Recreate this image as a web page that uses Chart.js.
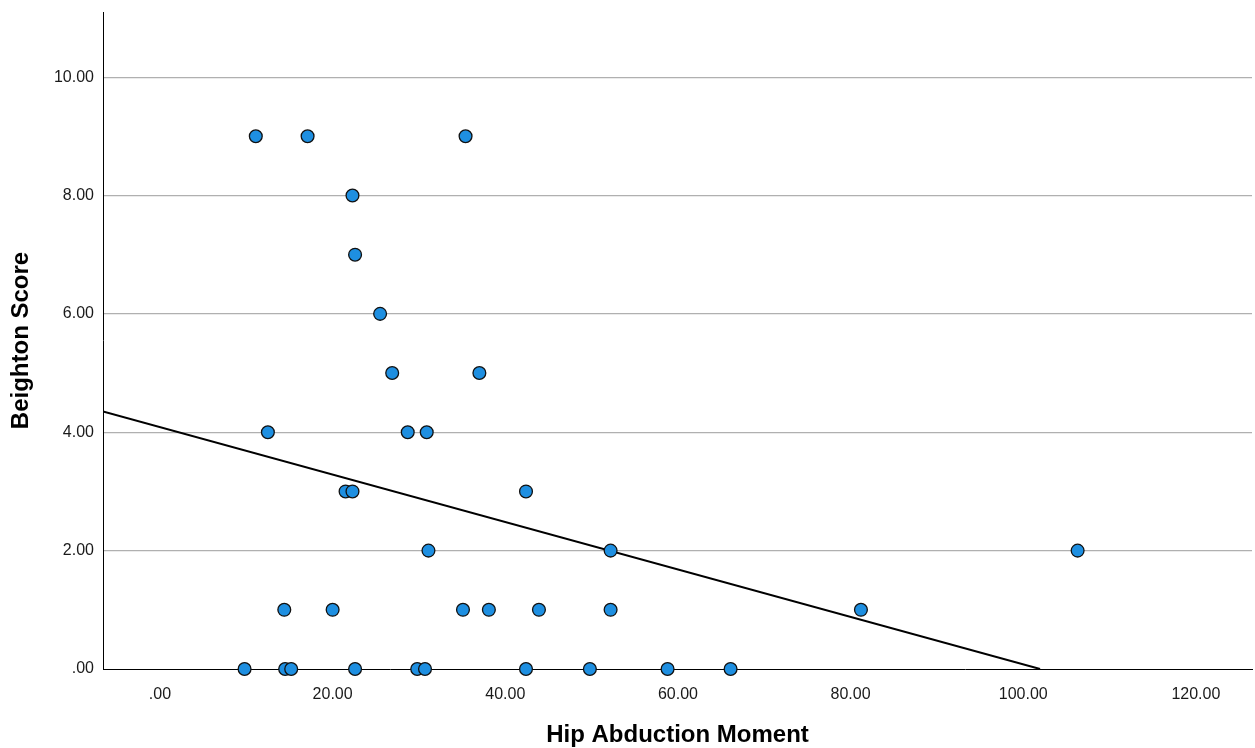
<!DOCTYPE html>
<html>
<head>
<meta charset="utf-8">
<title>Hip Abduction Moment vs Beighton Score</title>
<script src="https://cdn.jsdelivr.net/npm/chart.js@4.4.1/dist/chart.umd.min.js"></script>
<style>
    html, body { margin: 0; padding: 0; background: #ffffff; }
    #wrap { width: 1255px; height: 748px; position: relative; }
</style>
</head>
<body>
<div id="wrap"><canvas id="scatterChart"></canvas></div>
<script>
// hip abduction moment (x) and Beighton score (y)
const hipMoment = [
    11.1, 17.1, 35.4,
    22.3,
    22.6,
    25.5,
    26.9, 37.0,
    12.5, 28.7, 30.9,
    21.5, 22.3, 42.4,
    31.1, 52.2, 106.3,
    14.4, 20.0, 35.1, 38.1, 43.9, 52.2, 81.2,
    9.8, 14.5, 15.2, 22.6, 29.8, 30.7, 42.4, 49.8, 58.8, 66.1
];
const beightonScore = [
    9, 9, 9,
    8,
    7,
    6,
    5, 5,
    4, 4, 4,
    3, 3, 3,
    2, 2, 2,
    1, 1, 1, 1, 1, 1, 1,
    0, 0, 0, 0, 0, 0, 0, 0, 0, 0
];

const xTicks = [0, 20, 40, 60, 80, 100, 120];
const yTicks = [0, 2, 4, 6, 8, 10];
const xRange = [-6.6, 126.5];
const yRange = [0, 11.1];

const fontFamily = "'Liberation Sans', Arial, sans-serif";
const textColor = "#1a1a1a";

// least squares fit line, as the original draws it
function fitLine(xs, ys) {
    const n = xs.length;
    const mx = xs.reduce((a, b) => a + b, 0) / n;
    const my = ys.reduce((a, b) => a + b, 0) / n;
    let sxy = 0, sxx = 0;
    for (let i = 0; i < n; i++) {
        sxy += (xs[i] - mx) * (ys[i] - my);
        sxx += (xs[i] - mx) * (xs[i] - mx);
    }
    const slope = sxy / sxx;
    return { slope, intercept: my - slope * mx };
}

const fit = fitLine(hipMoment, beightonScore);
const xStart = xRange[0];
const xEnd = Math.min(xRange[1], -fit.intercept / fit.slope);
const fitPoints = [
    { x: xStart, y: fit.intercept + fit.slope * xStart },
    { x: xEnd, y: fit.intercept + fit.slope * xEnd }
];

const fmt = v => v === 0 ? ".00" : v.toFixed(2);

const tickFont = { family: fontFamily, size: 16 };
const titleFont = { family: fontFamily, size: 24, weight: "bold", lineHeight: 1.1 };

new Chart(document.getElementById("scatterChart"), {
    type: "scatter",
    data: {
        datasets: [{
            data: hipMoment.map((x, i) => ({ x, y: beightonScore[i] })),
            backgroundColor: "#1e8fe1",
            borderColor: "#111111",
            borderWidth: 1.3,
            pointRadius: 6.4,
            pointHoverRadius: 6.4,
            clip: false
        }, {
            type: "line",
            data: fitPoints,
            borderColor: "#000000",
            borderWidth: 2,
            pointRadius: 0,
            fill: false
        }]
    },
    options: {
        responsive: true,
        maintainAspectRatio: false,
        animation: false,
        layout: {
            autoPadding: false,
            padding: { top: 12, right: 3, left: 0, bottom: 0 }
        },
        plugins: {
            legend: { display: false },
            tooltip: { enabled: false }
        },
        scales: {
            x: {
                type: "linear",
                min: xRange[0],
                max: xRange[1],
                afterBuildTicks: s => { s.ticks = xTicks.map(v => ({ value: v })); },
                afterFit: s => {
                    s.height = 79;
                    s.paddingLeft = 0;
                    s.paddingRight = 0;
                },
                grid: { display: false, drawTicks: false },
                border: { display: true, color: "#000000", width: 1 },
                ticks: {
                    color: textColor,
                    font: tickFont,
                    padding: 16,
                    maxRotation: 0,
                    callback: v => fmt(v)
                },
                title: {
                    display: true,
                    text: "Hip Abduction Moment",
                    color: "#000000",
                    font: titleFont,
                    padding: { top: 0, bottom: -1 }
                }
            },
            y: {
                type: "linear",
                min: yRange[0],
                max: yRange[1],
                afterBuildTicks: s => { s.ticks = yTicks.map(v => ({ value: v })); },
                afterFit: s => {
                    s.width = 103;
                    s.paddingTop = 0;
                    s.paddingBottom = 0;
                },
                grid: {
                    drawTicks: false,
                    color: ctx => ctx.tick && ctx.tick.value === 0 ? "rgba(0,0,0,0)" : "#b0b0b0",
                    lineWidth: 1.2
                },
                border: { display: true, color: "#000000", width: 1 },
                ticks: {
                    color: textColor,
                    font: tickFont,
                    padding: 9,
                    callback: v => fmt(v)
                },
                title: {
                    display: true,
                    text: "Beighton Score",
                    color: "#000000",
                    font: titleFont,
                    padding: { top: 8, bottom: 0 }
                }
            }
        }
    }
});
</script>
</body>
</html>
